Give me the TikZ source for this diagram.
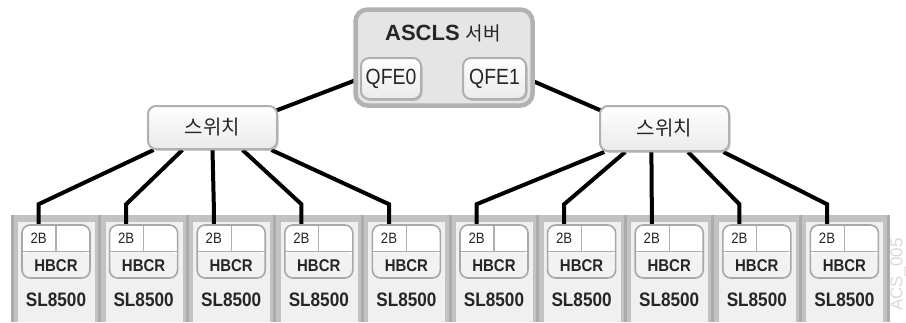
\documentclass[tikz,border=0pt]{standalone}
\usepackage{fontspec}
\setmainfont{Liberation Sans}
\newfontfamily\narrowsf[FakeStretch=0.88]{Liberation Sans}
\newfontfamily\kr{Noto Sans CJK KR}
\usetikzlibrary{calc,shadows}
\pgfdeclarelayer{bg}
\pgfdeclarelayer{wires}
\pgfsetlayers{bg,wires,main}
\tikzset{
  wire/.style={line width=4pt,black},
  pill/.style={draw=gray!62,line width=2pt,rounded corners=8pt,top color=white,bottom color=gray!16,
    drop shadow={opacity=0.4,shadow xshift=1.5pt,shadow yshift=-1.8pt},inner sep=0pt,text=black!85},
  frame/.style={draw=gray!60,line width=4.5pt,rounded corners=12pt,fill=gray!20,inner sep=0pt},
  slot/.style={draw=gray!68,line width=1.6pt,rounded corners=8pt,fill=white,inner sep=0pt,
    minimum width=68pt,minimum height=53pt,
    path picture={
      \fill[gray!10] (path picture bounding box.west) rectangle (path picture bounding box.south east);
      \draw[gray!62,line width=1.3pt] (path picture bounding box.west) -- (path picture bounding box.east);
      \draw[gray!62,line width=1.3pt] (path picture bounding box.north) -- (path picture bounding box.center);
    }},
  tag/.style={inner sep=0pt,text=black!85,font=\narrowsf\fontsize{15}{15}\selectfont},
  kind/.style={inner sep=0pt,text=black!85,font=\narrowsf\fontsize{17}{17}\selectfont\bfseries},
  model/.style={inner sep=0pt,text=black!85,font=\narrowsf\fontsize{19.5}{20}\selectfont\bfseries},
  panel/.style={fill=gray!12},
  rack/.style={fill=gray!48}
}

\begin{document}
\begin{tikzpicture}[x=1pt,y=-1pt]
  \useasboundingbox (0,0) rectangle (906,322);
  \begin{pgfonlayer}{bg}
    \fill[rack] (12,215) rectangle (888,322);
    \foreach \i in {0,...,10}
      \fill[gray!66] ({12+87.6*\i-1.5},215) rectangle ({12+87.6*\i+1.5},322);
  \end{pgfonlayer}
  \foreach \i in {1,...,10}{
    \pgfmathsetmacro\ux{12+87.6*(\i-1)}
    \begin{pgfonlayer}{bg}
      \fill[panel] (\ux+6,222) rectangle (\ux+83,322);
    \end{pgfonlayer}
    \node[slot] (hb\i) at (\ux+44,251.5) {};
    \coordinate (t\i) at ($(hb\i.north west)!0.5!(hb\i.north)$);
    \node[tag] (c\i) at ($(hb\i.north west)!0.5!(hb\i.center)$) {2B};
    \node[kind] (k\i) at ($(hb\i.south)!0.5!(hb\i.center)$) {HBCR};
    \node[model] (m\i) at (\ux+44,300) {SL8500};
  }

  \node[frame,minimum width=177pt,minimum height=96pt] (srv) at (444,57.5) {};
  \node[inner sep=0pt,text=black!85,font=\fontsize{22}{22}\selectfont\bfseries] (title) at (443,33)
    {ASCLS {\kr\mdseries\fontsize{19}{19}\selectfont 서버}};
  \node[pill,minimum width=60pt,minimum height=41pt,font=\narrowsf\fontsize{22}{22}\selectfont] (q0) at (391,78.5) {QFE0};
  \node[pill,minimum width=63pt,minimum height=41pt,font=\narrowsf\fontsize{22}{22}\selectfont] (q1) at (494.5,78.5) {QFE1};

  \node[pill,minimum width=129pt,minimum height=43pt,font=\kr\fontsize{20}{20}\selectfont] (swL) at (212.5,127.5) {스위치};
  \node[pill,minimum width=129pt,minimum height=45pt,font=\kr\fontsize{20}{20}\selectfont] (swR) at (664.5,128.5) {스위치};

  \node[rotate=90,anchor=east,inner sep=0pt,text=gray!30,font=\fontsize{17}{17}\selectfont] (code) at (898,238) {ACS\_005};

  \begin{pgfonlayer}{wires}
    \draw[wire] (q0.west) -- ([xshift=-3pt,yshift=-6pt]swL.north east);
    \draw[wire] (q1.east) -- ([xshift=3pt,yshift=-6pt]swR.north west);
    \foreach \u/\f in {1/0.05,2/0.27,3/0.5,4/0.73,5/0.95}
      \draw[wire] ($(swL.south west)!\f!(swL.south east)$) -- ($(t\u)+(0,-20)$) -- (t\u);
    \foreach \u/\f in {6/0.04,7/0.2,8/0.4,9/0.68,10/0.95}
      \draw[wire] ($(swR.south west)!\f!(swR.south east)$) -- ($(t\u)+(0,-20)$) -- (t\u);
  \end{pgfonlayer}
\end{tikzpicture}
\end{document}
